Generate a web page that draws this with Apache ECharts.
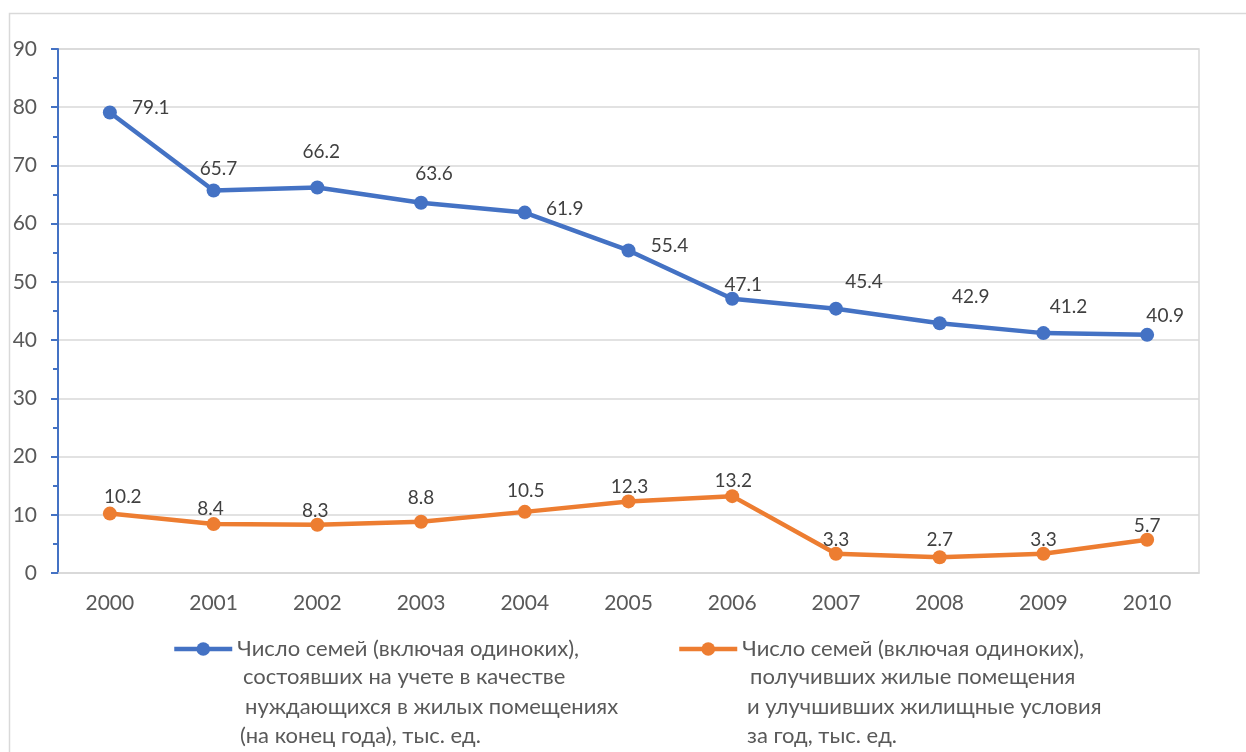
<!DOCTYPE html>
<html><head><meta charset="utf-8">
<script src="https://cdn.jsdelivr.net/npm/echarts@6/dist/echarts.min.js"></script>
<style>html,body{margin:0;padding:0;background:#fff}#c{width:1246px;height:752px}</style>
</head><body><div id="c"></div>
<script>
const years = ['2000','2001','2002','2003','2004','2005','2006','2007','2008','2009','2010'];
const registered = [79.1, 65.7, 66.2, 63.6, 61.9, 55.4, 47.1, 45.4, 42.9, 41.2, 40.9];
const housed = [10.2, 8.4, 8.3, 8.8, 10.5, 12.3, 13.2, 3.3, 2.7, 3.3, 5.7];
const linesRegistered = ['Число семей (включая одиноких),', 'состоявших на учете в качестве', 'нуждающихся в жилых помещениях', '(на конец года), тыс. ед.'];
const linesHoused = ['Число семей (включая одиноких),', 'получивших жилые помещения', 'и улучшивших жилищные условия', 'за год, тыс. ед.'];
const nameRegistered = linesRegistered.join('\n');
const nameHoused = linesHoused.join('\n');

// label placement (style, not data)
const blueOffsets = [[41,-5],[5,-22],[4,-36],[13,-29],[40,-4],[41,-5],[11,-14],[28,-27],[31,-26],[25,-26],[18,-19]];
const orangeOffsets = [[13,-17],[-3,-15],[-2,-14],[0,-24],[1,-21],[1,-15],[1,-15],[0,-14],[0,-17],[0,-14],[0,-14]];
const contX1 = [243, 245, 240];
const contX2 = [750, 747, 747];

const FONT = 'Lato, "Open Sans", sans-serif';
const LEG_FS = 22;
const chart = echarts.init(document.getElementById('c'));
function mk(vals, offs){
  return vals.map((v,i)=>({value:v, label:{offset:offs[i]}}));
}
const lbl = {show:true, position:'inside', color:'#404040', fontSize:19, fontFamily:FONT};
const graphics = [{type:'rect', shape:{x:9.5,y:13.5,width:1400,height:900}, style:{fill:null, stroke:'#d9d9d9', lineWidth:1.5}, silent:true, z:-1}];
function addCont(lines, xs){
  lines.slice(1).forEach((t,i)=>{
    graphics.push({type:'text', left:xs[i], top:666 + i*29.5, silent:true,
      style:{text:t, fill:'#595959', font:LEG_FS + 'px ' + FONT}});
  });
}
addCont(linesRegistered, contX1);
addCont(linesHoused, contX2);
const legendCommon = {itemWidth:58, itemHeight:17, itemGap:0, top:638, padding:0,
  formatter: n => n.split('\n')[0],
  lineStyle:{width:4.5},
  textStyle:{color:'#595959', fontSize:LEG_FS, fontFamily:FONT}};
chart.setOption({
  animation:false,
  backgroundColor:'#fff',
  graphic:graphics,
  grid:{left:58, right:47, top:49, bottom:179, show:true, borderColor:'#d9d9d9', borderWidth:1.5},
  xAxis:{type:'category', data:years, boundaryGap:true,
    axisLine:{lineStyle:{color:'#d9d9d9', width:1.5}},
    axisTick:{inside:true, length:8, lineStyle:{color:'#d9d9d9', width:1.5}},
    axisLabel:{color:'#595959', fontSize:21, fontFamily:FONT, margin:20}},
  yAxis:{type:'value', min:0, max:90, interval:10,
    axisLine:{show:true, lineStyle:{color:'#4472C4', width:2}},
    axisTick:{show:true, length:7, lineStyle:{color:'#4472C4', width:2}},
    minorTick:{show:true, splitNumber:2, length:5, lineStyle:{color:'#4472C4', width:2}},
    splitLine:{lineStyle:{color:'#d9d9d9', width:1.5}},
    axisLabel:{color:'#595959', fontSize:21, fontFamily:FONT, margin:21}},
  legend:[
    Object.assign({data:[nameRegistered], left:172}, legendCommon),
    Object.assign({data:[nameHoused], left:677}, legendCommon)
  ],
  series:[
    {name:nameRegistered, type:'line', data:mk(registered, blueOffsets), symbol:'circle', symbolSize:14,
     lineStyle:{color:'#4472C4', width:4.5}, itemStyle:{color:'#4472C4'}, label:lbl},
    {name:nameHoused, type:'line', data:mk(housed, orangeOffsets), symbol:'circle', symbolSize:14,
     lineStyle:{color:'#ED7D31', width:4.5}, itemStyle:{color:'#ED7D31'}, label:lbl}
  ]
});
</script></body></html>
